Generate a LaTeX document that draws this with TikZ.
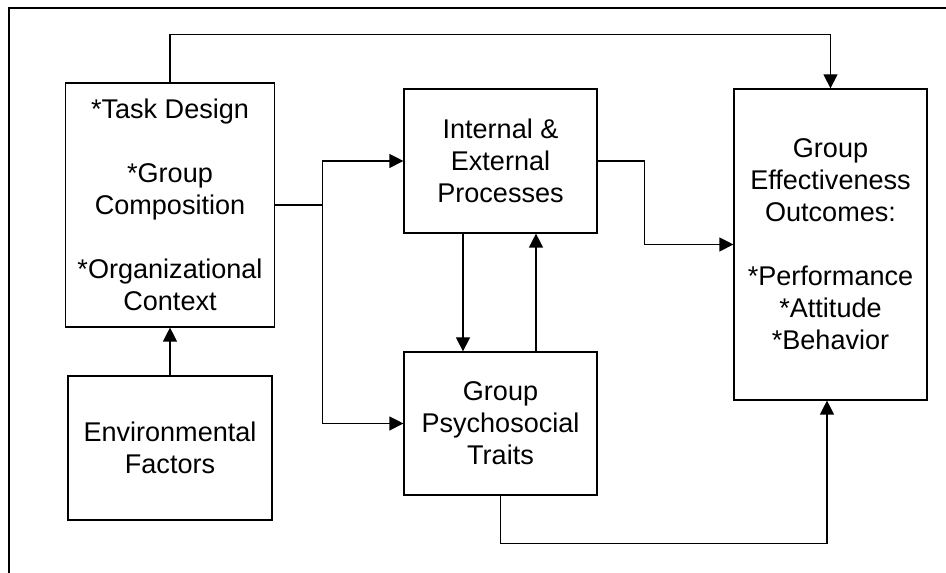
\documentclass[tikz,border=0pt]{standalone}
\usepackage{fontspec}
\setmainfont{Liberation Sans}
\usetikzlibrary{arrows.meta}

\begin{document}
\begin{tikzpicture}[
  box/.style={draw, rectangle, line width=0.35pt, align=center, font=\fontsize{7.7pt}{9.1pt}\selectfont},
  link/.style={draw, line width=0.35pt, -{Triangle[length=0.14cm,width=0.14cm]}}
]
\useasboundingbox (0,0) rectangle (9.46,5.73);
\path[draw,line width=0.6pt] (0.09,0) |- (9.46,5.65);

\node[box, minimum width=2.04cm, minimum height=2.44cm] (1) at (1.70,3.68) {*Task Design\\[9.1pt]*Group\\Composition\\[9.1pt]*Organizational\\Context};
\node[box, minimum width=2.04cm, minimum height=1.44cm] (2) at (1.70,1.25) {Environmental\\Factors};
\node[box, minimum width=1.93cm, minimum height=1.44cm] (3) at (5.005,4.12) {Internal \&\\External\\Processes};
\node[box, minimum width=1.93cm, minimum height=1.43cm] (4) at (5.005,1.495) {Group\\Psychosocial\\Traits};
\node[box, minimum width=1.93cm, minimum height=3.11cm] (5) at (8.305,3.285) {Group\\Effectiveness\\Outcomes:\\[9.1pt]*Performance\\*Attitude\\*Behavior};

\coordinate (j) at ([xshift=0.48cm]1.east);

\path[link] (2) -- (1);
\path[draw,line width=0.35pt] (1.east) -- (j);
\path[link] (j) |- (3.west);
\path[link] (j) |- (4.west);
\path[link] ([xshift=-0.375cm]3.south) -- ([xshift=-0.375cm]4.north);
\path[link] ([xshift=0.355cm]4.north) -- ([xshift=0.355cm]3.south);
\path[link] (3.east) -- ++(0.47,0) |- (5.west);
\path[link] (1.north) -- ++(0,0.48) -| (5.north);
\path[link] (4.south) -- ++(0,-0.48) -| ([xshift=-0.035cm]5.south);
\end{tikzpicture}
\end{document}
